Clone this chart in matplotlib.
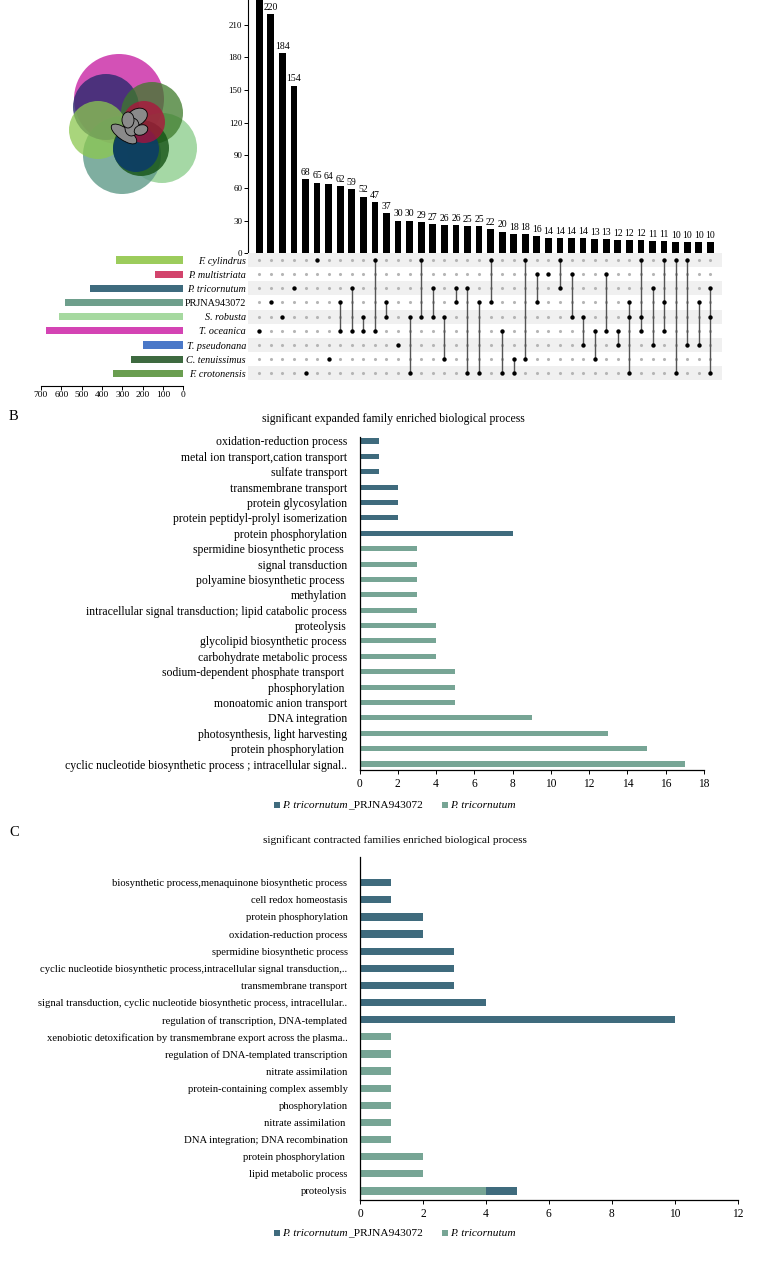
import matplotlib
matplotlib.use("Agg")
import matplotlib.pyplot as plt
from matplotlib.patches import Circle, Ellipse, Rectangle
from matplotlib.offsetbox import TextArea, DrawingArea, HPacker, AnchoredOffsetbox
import numpy as np

plt.rcParams['font.family'] = ['Liberation Serif', 'DejaVu Serif']

# ---------------- data: panel A (UpSet) ----------------
species = ["F. cylindrus", "P. multistriata", "P. tricornutum", "PRJNA943072",
           "S. robusta", "T. oceanica", "T. pseudonana", "C. tenuissimus", "F. crotonensis"]
species_italic = [True, True, True, False, True, True, True, True, True]
set_sizes = [330, 140, 460, 580, 610, 675, 200, 258, 345]
set_colors = ["#9ccc5c", "#d2446c", "#3e6b7e", "#6e9f8c", "#a6d9a0",
              "#d444b4", "#4a78c8", "#3e6a40", "#6a9e50"]

intersection_sizes = [250, 220, 184, 154, 68, 65, 64, 62, 59, 52, 47, 37, 30, 30, 29,
                      27, 26, 26, 25, 25, 22, 20, 18, 18, 16, 14, 14, 14, 14, 13, 13,
                      12, 12, 12, 11, 11, 10, 10, 10, 10]
# member row indices (0 = F. cylindrus ... 8 = F. crotonensis)
intersection_members = [
    [5], [3], [4], [2], [8], [0], [7], [3, 5], [2, 5], [4, 5],
    [0, 5], [3, 4], [6], [4, 8], [0, 4], [2, 4], [4, 7], [2, 3], [2, 8], [3, 8],
    [0, 3], [5, 8], [7, 8], [0, 7], [1, 3], [1], [0, 2], [1, 4], [4, 6], [5, 7],
    [1, 5], [5, 6], [3, 4, 8], [0, 4, 5], [2, 6], [0, 3, 5], [0, 8], [0, 6], [3, 6], [2, 4, 8],
]

# ---------------- data: panel B ----------------
b_terms = ["oxidation-reduction process", "metal ion transport,cation transport",
           "sulfate transport", "transmembrane transport", "protein glycosylation",
           "protein peptidyl-prolyl isomerization", "protein phosphorylation",
           "spermidine biosynthetic process ", "signal transduction",
           "polyamine biosynthetic process ", "methylation",
           "intracellular signal transduction; lipid catabolic process", "proteolysis",
           "glycolipid biosynthetic process", "carbohydrate metabolic process",
           "sodium-dependent phosphate transport ", "phosphorylation ",
           "monoatomic anion transport", "DNA integration",
           "photosynthesis, light harvesting", "protein phosphorylation ",
           "cyclic nucleotide biosynthetic process ; intracellular signal.."]
b_prjna = [1, 1, 1, 2, 2, 2, 8, 0, 0, 0, 0, 0, 0, 0, 0, 0, 0, 0, 0, 0, 0, 0]
b_ptri = [0, 0, 0, 0, 0, 0, 0, 3, 3, 3, 3, 3, 4, 4, 4, 5, 5, 5, 9, 13, 15, 17]
b_ticks = [0, 2, 4, 6, 8, 10, 12, 14, 16, 18]

# ---------------- data: panel C ----------------
c_terms = ["biosynthetic process,menaquinone biosynthetic process", "cell redox homeostasis",
           "protein phosphorylation", "oxidation-reduction process",
           "spermidine biosynthetic process",
           "cyclic nucleotide biosynthetic process,intracellular signal transduction,..",
           "transmembrane transport",
           "signal transduction, cyclic nucleotide biosynthetic process, intracellular..",
           "regulation of transcription, DNA-templated",
           "xenobiotic detoxification by transmembrane export across the plasma..",
           "regulation of DNA-templated transcription", "nitrate assimilation",
           "protein-containing complex assembly", "phosphorylation", "nitrate assimilation ",
           "DNA integration; DNA recombination", "protein phosphorylation ",
           "lipid metabolic process", "proteolysis"]
c_prjna = [1, 1, 2, 2, 3, 3, 3, 4, 10, 0, 0, 0, 0, 0, 0, 0, 0, 0, 1]
c_ptri = [0, 0, 0, 0, 0, 0, 0, 0, 0, 1, 1, 1, 1, 1, 1, 1, 2, 2, 4]
c_ticks = [0, 2, 4, 6, 8, 10, 12]

series_italic_part = ["P. tricornutum", "P. tricornutum"]
series_plain_part = ["_PRJNA943072", ""]
dark_col = "#3f6b7d"
light_col = "#77a595"
series_colors = [dark_col, light_col]

# ---------------- figure ----------------
W, H = 784, 1269
fig = plt.figure(figsize=(W / 100, H / 100), dpi=100)


def ax_px(l, t, r, b):
    return fig.add_axes([l / W, 1 - b / H, (r - l) / W, (b - t) / H])


def fy(y):
    return 1 - y / H


def fx(x):
    return x / W


n_int = len(intersection_sizes)
n_sp = len(species)

# --- Venn-like decoration (layout only) ---
venn_layout = [  # (cx, cy, r, color, alpha)
    (119, 99, 45, "#cc33aa", 0.85),
    (162, 148, 35, "#8fcf8f", 0.8),
    (122, 155, 39, "#5f9a88", 0.8),
    (106, 107, 33, "#2a2a6e", 0.8),
    (152, 113, 31, "#3d7a2a", 0.75),
    (98, 130, 29, "#8cc850", 0.75),
    (141, 148, 28, "#145214", 0.8),
    (136, 149, 23, "#0a3a6a", 0.85),
    (144, 122, 21, "#b0103c", 0.75),
]
axv = ax_px(0, 0, 247, 253)
axv.set_xlim(0, 247)
axv.set_ylim(253, 0)
axv.set_aspect('equal')
axv.axis('off')
for cx, cy, r, c, a in venn_layout:
    axv.add_patch(Circle((cx, cy), r, facecolor=c, alpha=a, edgecolor='none'))
for (cx, cy, w, h, ang) in [(137, 117, 22, 16, -30), (124, 134, 30, 12, 35),
                            (132, 127, 14, 18, 10), (141, 130, 14, 10, -20),
                            (128, 120, 12, 16, 0)]:
    axv.add_patch(Ellipse((cx, cy), w, h, angle=ang, facecolor="#8a8a8a",
                          edgecolor="black", lw=0.6))

# --- intersection bars ---
axb = ax_px(247.7, 0, 721.9, 253.3)
xs = np.arange(n_int)
axb.bar(xs, intersection_sizes, width=0.58, color="black")
axb.set_xlim(-1, n_int)
ytop = 232.6
axb.set_ylim(0, ytop)
for x, v in zip(xs, intersection_sizes):
    if v + 12 < ytop:
        axb.text(x, v + 2, str(v), ha='center', va='bottom', fontsize=7)
axb.set_yticks(np.arange(0, 211, 30))
axb.tick_params(axis='y', labelsize=6.5, length=3, width=0.7, pad=1)
axb.set_xticks([])
for s in ['top', 'right', 'bottom']:
    axb.spines[s].set_visible(False)
axb.spines['left'].set_linewidth(0.8)

# --- matrix ---
axm = ax_px(247.7, 252.9, 721.9, 380.4)
axm.set_xlim(-1, n_int)
axm.set_ylim(n_sp - 0.5, -0.5)
for i in range(n_sp):
    if i % 2 == 0:
        axm.axhspan(i - 0.5, i + 0.5, color="#f0f0f0", lw=0)
gx, gy = np.meshgrid(xs, np.arange(n_sp))
axm.scatter(gx.ravel(), gy.ravel(), s=5, color="#b5b5b5", lw=0, zorder=2)
for x, mem in zip(xs, intersection_members):
    if len(mem) > 1:
        axm.plot([x, x], [min(mem), max(mem)], color="#555555", lw=1.0, zorder=3)
    axm.scatter([x] * len(mem), mem, s=10, color="black", lw=0, zorder=4)
axm.axis('off')

# --- row labels ---
for i, (name, it) in enumerate(zip(species, species_italic)):
    fig.text(fx(246), fy(261 + i * 14.17), name, ha='right', va='center',
             fontsize=7.3, style='italic' if it else 'normal')

# --- set sizes ---
axs = ax_px(41, 252.9, 183.3, 385.7)
axs.barh(np.arange(n_sp), set_sizes, height=0.5, color=set_colors)
axs.set_xlim(700, 0)
axs.set_ylim(8 + (385.7 - 373.3) / 14.17, -0.5)
axs.set_xticks(np.arange(0, 701, 100))
axs.set_yticks([])
axs.tick_params(axis='x', labelsize=6.8, length=3, width=0.7, pad=1)
for s in ['top', 'right', 'left']:
    axs.spines[s].set_visible(False)
axs.spines['bottom'].set_linewidth(0.8)


# --- horizontal bar panels ---
def hbar_panel(l, t, r, b, terms, prjna, ptri, ticks, xmax, ytop_off, ybot_off, fs, bh):
    ax = ax_px(l, t, r, b)
    y = np.arange(len(terms))
    ax.barh(y, ptri, height=bh, color=light_col)
    ax.barh(y, prjna, left=ptri, height=bh, color=dark_col)
    ax.set_xlim(0, xmax)
    ax.set_ylim(len(terms) - 1 + ybot_off, -ytop_off)
    ax.set_yticks(y)
    ax.set_yticklabels(terms, fontsize=fs)
    ax.set_xticks(ticks)
    ax.tick_params(axis='y', length=0, pad=9)
    ax.tick_params(axis='x', labelsize=8.3, length=3, width=0.7, direction='out', pad=3)
    for s in ['top', 'right']:
        ax.spines[s].set_visible(False)
    ax.spines['left'].set_linewidth(0.9)
    ax.spines['bottom'].set_linewidth(0.9)
    return ax


hbar_panel(359.5, 437, 704, 770, b_terms, b_prjna, b_ptri, b_ticks, 18, 0.26, 0.39, 8.5, 0.33)
hbar_panel(360, 856.7, 737.5, 1200, c_terms, c_prjna, c_ptri, c_ticks, 12, 1.52, 0.53, 7.7, 0.42)

# panel letters and titles
fig.text(fx(9), fy(416), "B", fontsize=10.5, va='center', ha='left')
fig.text(fx(9), fy(833), "C", fontsize=10.5, va='center', ha='left')
fig.text(fx(393), fy(419), "significant expanded family enriched biological process",
         fontsize=8.5, ha='center', va='center')
fig.text(fx(395), fy(840), "significant contracted families enriched biological process",
         fontsize=8.2, ha='center', va='center')


# --- legends with mixed italic / roman text ---
def mixed_legend(ycenter):
    children = []
    for k, (ipart, ppart, col) in enumerate(zip(series_italic_part, series_plain_part,
                                                 series_colors)):
        if k > 0:
            children.append(DrawingArea(12, 5))
        da = DrawingArea(4.3, 4.3)
        da.add_artist(Rectangle((0, 0), 4.3, 4.3, facecolor=col, edgecolor='none'))
        children.append(da)
        row = [TextArea(ipart, textprops=dict(style='italic', fontsize=8.2))]
        if ppart:
            row.append(TextArea(ppart, textprops=dict(fontsize=8.2)))
        children.append(HPacker(children=row, align='baseline', pad=0, sep=0))
    box = HPacker(children=children, align='center', pad=0, sep=1.2)
    anchored = AnchoredOffsetbox(loc='center', child=box, pad=0, borderpad=0,
                                 frameon=False, bbox_to_anchor=(fx(395), fy(ycenter)),
                                 bbox_transform=fig.transFigure)
    fig.add_artist(anchored)


mixed_legend(805)
mixed_legend(1233)

fig.savefig("out.png", dpi=100)
